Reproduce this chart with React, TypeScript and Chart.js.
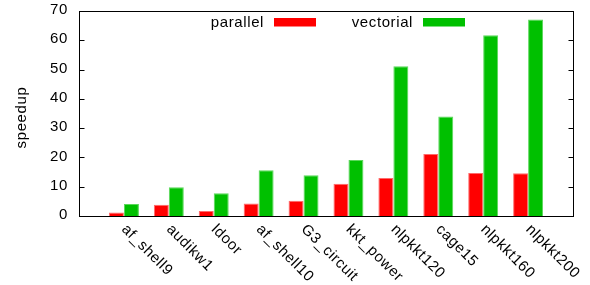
import React, { useEffect, useRef } from 'react';
import { Chart, registerables } from 'chart.js';

Chart.register(...registerables);

const categories = ['af_shell9', 'audikw1', 'ldoor', 'af_shell10', 'G3_circuit', 'kkt_power', 'nlpkkt120', 'cage15', 'nlpkkt160', 'nlpkkt200'];
const parallelValues = [1.2, 3.8, 1.7, 4.3, 5.2, 11.0, 13.0, 21.2, 14.7, 14.6];
const vectorialValues = [4.1, 9.8, 7.8, 15.6, 13.9, 19.1, 51.1, 34.0, 61.7, 67.1];
const yTicks = [0, 10, 20, 30, 40, 50, 60, 70];
const seriesNames = ['parallel', 'vectorial'];
const seriesColors = ['#ff0000', '#00c000'];
const seriesBorders = ['#ff6a6a', '#5ad85a'];
const yTitle = 'speedup';

const FONT_FAMILY = '"Liberation Sans", Arial, Helvetica, sans-serif';
const FONT_SIZE = 15;
const FONT = `${FONT_SIZE}px ${FONT_FAMILY}`;
const SPACING = '0.6px';

const gnuplotPlugin = {
  id: 'gnuplotDecor',
  afterDatasetsDraw(chart: any) {
    const { ctx, chartArea: a, scales } = chart;
    const xs = scales.x;
    const ys = scales.y;
    ctx.save();
    // frame
    ctx.strokeStyle = '#000';
    ctx.lineWidth = 1;
    const L = Math.round(a.left) + 0.5;
    const R = Math.round(a.right) + 0.5;
    const T = Math.round(a.top) + 0.5;
    const B = Math.round(a.bottom) + 0.5;
    ctx.strokeRect(L, T, R - L, B - T);
    // inward ticks on both sides
    ctx.beginPath();
    yTicks.forEach((v) => {
      const py = Math.round(ys.getPixelForValue(v)) + 0.5;
      ctx.moveTo(L, py);
      ctx.lineTo(L + 5, py);
      ctx.moveTo(R, py);
      ctx.lineTo(R - 5, py);
    });
    ctx.stroke();

    ctx.fillStyle = '#000';
    ctx.font = FONT;
    try {
      (ctx as any).letterSpacing = SPACING;
    } catch (e) {}

    // y tick labels
    ctx.textAlign = 'right';
    ctx.textBaseline = 'middle';
    yTicks.forEach((v) => {
      const py = ys.getPixelForValue(v);
      ctx.fillText(String(v), a.left - 11, py - 1);
    });

    // rotated category labels
    ctx.textAlign = 'left';
    ctx.textBaseline = 'middle';
    categories.forEach((c, i) => {
      const px = xs.getPixelForValue(i + 1);
      ctx.save();
      ctx.translate(px, a.bottom + 11);
      ctx.rotate(Math.PI / 4);
      ctx.fillText(c, 0, 0);
      ctx.restore();
    });

    // y axis title
    ctx.save();
    ctx.translate(22, (a.top + a.bottom) / 2 + 4);
    ctx.rotate(-Math.PI / 2);
    ctx.textAlign = 'center';
    ctx.textBaseline = 'middle';
    ctx.fillText(yTitle, 0, 0);
    ctx.restore();

    // legend (gnuplot style: text right-aligned, then sample)
    const swatchLefts = [a.left + 195, a.left + 344];
    seriesNames.forEach((name, i) => {
      const sx = swatchLefts[i];
      ctx.fillStyle = seriesColors[i];
      ctx.fillRect(sx, 18, 42, 8.5);
      ctx.fillStyle = '#000';
      ctx.textAlign = 'right';
      ctx.textBaseline = 'middle';
      ctx.fillText(name, sx - 10, 22.5);
    });
    ctx.restore();
  },
};

export default function App() {
  const canvasRef = useRef<HTMLCanvasElement | null>(null);

  useEffect(() => {
    const canvas = canvasRef.current;
    if (!canvas) return;
    const labels = ['', ...categories, ''];
    const chart = new Chart(canvas, {
      type: 'bar',
      data: {
        labels,
        datasets: [
          {
            label: seriesNames[0],
            data: [null, ...parallelValues, null],
            backgroundColor: seriesColors[0],
            borderColor: seriesBorders[0],
            borderWidth: 1,
            categoryPercentage: 0.667,
            barPercentage: 1.0,
          },
          {
            label: seriesNames[1],
            data: [null, ...vectorialValues, null],
            backgroundColor: seriesColors[1],
            borderColor: seriesBorders[1],
            borderWidth: 1,
            categoryPercentage: 0.667,
            barPercentage: 1.0,
          },
        ],
      },
      options: {
        responsive: false,
        animation: false,
        devicePixelRatio: 1,
        layout: { padding: { top: 11, right: 17, left: 0, bottom: 0 } },
        plugins: {
          legend: { display: false },
          tooltip: { enabled: false },
          title: { display: false },
        },
        scales: {
          x: {
            type: 'category',
            offset: false,
            grid: { display: false, drawTicks: false },
            border: { display: false },
            ticks: { display: false },
            afterFit: (s: any) => {
              s.height = 69;
            },
          },
          y: {
            min: 0,
            max: 70,
            grid: { display: false, drawTicks: false },
            border: { display: false },
            ticks: { display: false, stepSize: 10 },
            afterFit: (s: any) => {
              s.width = 79;
            },
          },
        },
      },
      plugins: [gnuplotPlugin],
    } as any);
    return () => chart.destroy();
  }, []);

  return (
    <div style={{ position: 'fixed', left: 0, top: 0, width: 590, height: 285, background: '#fff' }}>
      <canvas ref={canvasRef} width={590} height={285} style={{ display: 'block', width: 590, height: 285 }} />
    </div>
  );
}
